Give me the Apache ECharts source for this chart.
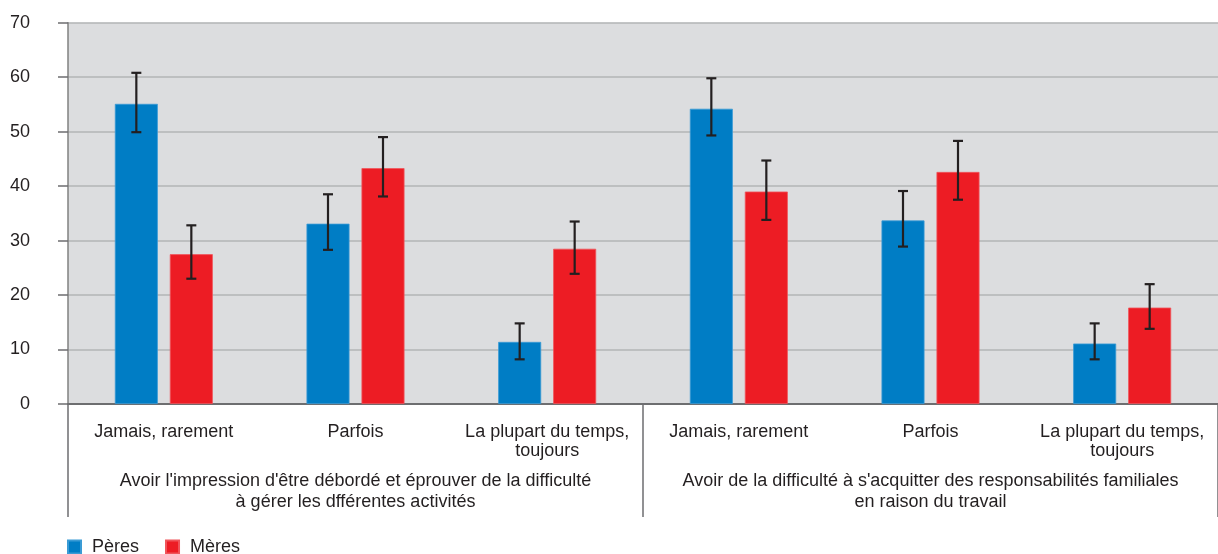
<!DOCTYPE html>
<html>
<head>
<meta charset="utf-8">
<script src="https://cdn.jsdelivr.net/npm/echarts@6/dist/echarts.min.js"></script>
<style>
  html, body { margin: 0; padding: 0; background: #ffffff; }
  #chart { width: 1218px; height: 554px; }
</style>
</head>
<body>
<div id="chart"></div>
<script>
// Response categories, repeated under each of the two questions
const categories = [
  'Jamais, rarement', 'Parfois', 'La plupart du temps,\ntoujours',
  'Jamais, rarement', 'Parfois', 'La plupart du temps,\ntoujours'
];
// Question groups shown under the response categories
const groups = [
  "Avoir l'impression d'être débordé et éprouver de la difficulté\nà gérer les dfférentes activités",
  "Avoir de la difficulté à s'acquitter des responsabilités familiales\nen raison du travail"
];
const yTicks = { min: 0, max: 70, interval: 10 };

// Percentages
const peres = [55.1, 33.1, 11.4, 54.2, 33.7, 11.1];
const meres = [27.5, 43.3, 28.5, 39.0, 42.6, 17.7];
// Confidence interval bounds
const peresLow  = [49.9, 28.3, 8.2, 49.3, 28.9, 8.2];
const peresHigh = [60.8, 38.5, 14.8, 59.8, 39.1, 14.8];
const meresLow  = [23.0, 38.1, 23.9, 33.8, 37.5, 13.8];
const meresHigh = [32.8, 49.0, 33.5, 44.7, 48.3, 22.0];

const BAR_W = 43;
const BAR_GAP = 12;
const FONT = '"Liberation Sans", Arial, sans-serif';
const FONT_SIZE = 18;
const TEXT = '#231f20';

function errorRows(low, high) {
  return low.map((lo, i) => [i, lo, high[i]]);
}

function errorBar(offset) {
  return function (params, api) {
    const i = api.value(0);
    const lo = api.coord([i, api.value(1)]);
    const hi = api.coord([i, api.value(2)]);
    const x = lo[0] + offset;
    const style = { stroke: '#231f20', lineWidth: 2.2 };
    return {
      type: 'group',
      children: [
        { type: 'line', shape: { x1: x, y1: hi[1], x2: x, y2: lo[1] }, style },
        { type: 'line', shape: { x1: x - 5, y1: hi[1], x2: x + 5, y2: hi[1] }, style },
        { type: 'line', shape: { x1: x - 5, y1: lo[1], x2: x + 5, y2: lo[1] }, style }
      ]
    };
  };
}

const half = (BAR_W + BAR_GAP) / 2;

const chart = echarts.init(document.getElementById('chart'), null, { renderer: 'canvas' });
chart.setOption({
  animation: false,
  textStyle: { fontFamily: FONT, color: TEXT },
  grid: {
    left: 68, right: 0, top: 22.7, bottom: 150,
    show: true, backgroundColor: '#dcdddf', borderWidth: 0
  },
  legend: {
    left: 67, top: 538, padding: 0,
    itemWidth: 13, itemHeight: 13, itemGap: 26,
    icon: 'rect',
    textStyle: { fontSize: FONT_SIZE, color: TEXT, fontFamily: FONT, padding: [0, 0, 0, 6] },
    data: ['Pères', 'Mères']
  },
  xAxis: [
    {
      type: 'category',
      data: categories,
      position: 'bottom',
      axisLine: { show: true, lineStyle: { color: '#6d6e70', width: 2 } },
      axisTick: { show: false },
      axisLabel: {
        interval: 0, margin: 19, fontSize: FONT_SIZE, lineHeight: 18.5,
        color: TEXT, fontFamily: FONT, align: 'center'
      }
    },
    {
      type: 'category',
      data: groups,
      position: 'bottom',
      axisLine: { show: false },
      axisTick: { show: true, length: 113, lineStyle: { color: '#6d6e70', width: 1.5 } },
      axisLabel: {
        interval: 0, margin: 67, fontSize: FONT_SIZE, lineHeight: 21,
        color: TEXT, fontFamily: FONT, align: 'center'
      },
      splitLine: { show: false }
    }
  ],
  yAxis: {
    type: 'value',
    min: yTicks.min, max: yTicks.max, interval: yTicks.interval,
    axisLine: { show: true, lineStyle: { color: '#808080', width: 1.5 } },
    axisTick: { show: true, length: 10, lineStyle: { color: '#6d6e70', width: 1.5 } },
    axisLabel: { fontSize: FONT_SIZE, color: TEXT, fontFamily: FONT, margin: 38, align: 'right' },
    splitLine: { show: true, lineStyle: { color: '#b3b4b6', width: 1.5 } }
  },
  series: [
    {
      name: 'Pères', type: 'bar', xAxisIndex: 0,
      data: peres, barWidth: BAR_W, barGap: (BAR_GAP / BAR_W * 100).toFixed(1) + '%',
      itemStyle: { color: '#007dc5', borderColor: '#3a9bd5', borderWidth: 0.8 }
    },
    {
      name: 'Mères', type: 'bar', xAxisIndex: 0,
      data: meres, barWidth: BAR_W, barGap: (BAR_GAP / BAR_W * 100).toFixed(1) + '%',
      itemStyle: { color: '#ed1c24', borderColor: '#f0545a', borderWidth: 0.8 }
    },
    {
      name: 'Pères IC', type: 'custom', xAxisIndex: 0, z: 5,
      renderItem: errorBar(-half), data: errorRows(peresLow, peresHigh),
      encode: { x: 0, y: [1, 2] }
    },
    {
      name: 'Mères IC', type: 'custom', xAxisIndex: 0, z: 5,
      renderItem: errorBar(half), data: errorRows(meresLow, meresHigh),
      encode: { x: 0, y: [1, 2] }
    }
  ]
});
</script>
</body>
</html>
